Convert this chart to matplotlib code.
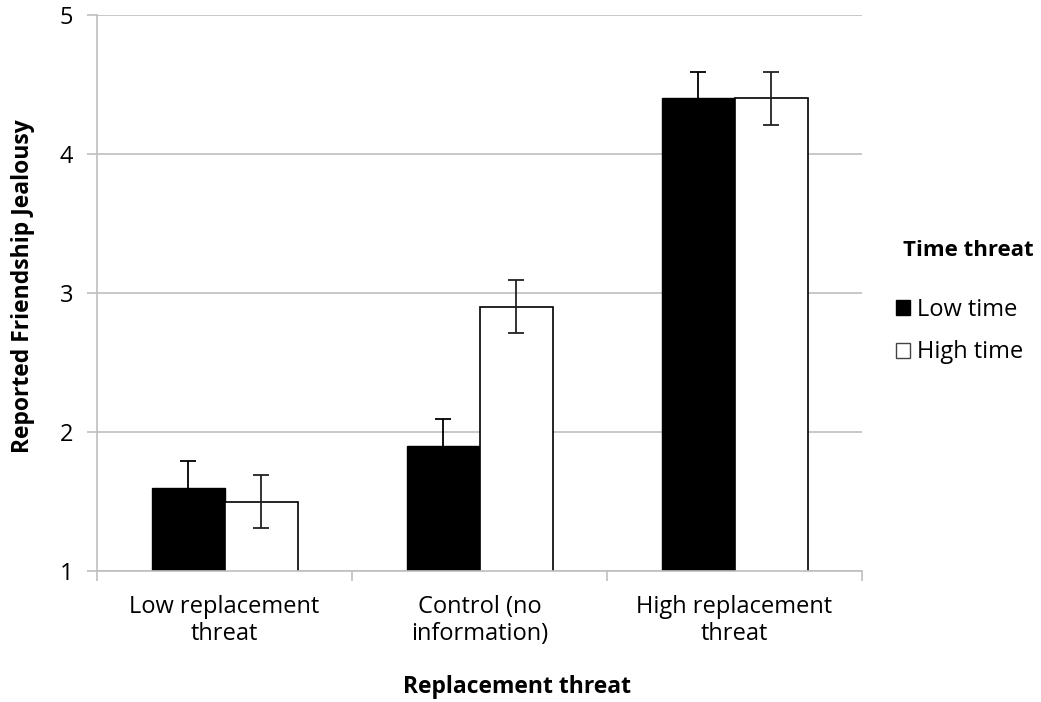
import matplotlib.pyplot as plt
import numpy as np
from matplotlib.patches import Patch

plt.rcParams['font.family'] = ['Open Sans', 'DejaVu Sans']

categories = ['Low replacement\nthreat', 'Control (no\ninformation)', 'High replacement\nthreat']
low_time = [1.6, 1.9, 4.4]
high_time = [1.5, 2.9, 4.4]
low_err = [0.19, 0.19, 0.19]
high_err = [0.19, 0.19, 0.19]

grid_col = '#bfbfbf'

fig = plt.figure(figsize=(10.41, 7.02), dpi=100)
ax = fig.add_axes([97 / 1041, 1 - 571 / 702, 765 / 1041, 556 / 702])

x = np.arange(len(categories))
w = 73 / 255

ax.bar(x - w / 2, low_time, w, color='black', edgecolor='black',
       linewidth=1, zorder=3)
ax.bar(x + w / 2, high_time, w, color='white', edgecolor='black',
       linewidth=1.2, zorder=3)
ax.errorbar(x - w / 2, low_time, yerr=low_err, fmt='none', ecolor='black',
            elinewidth=1.3, capsize=5.5, capthick=1.3, zorder=4)
ax.errorbar(x + w / 2, high_time, yerr=high_err, fmt='none', ecolor='#222222',
            elinewidth=1.3, capsize=5.5, capthick=1.3, zorder=4)

ax.set_xlim(-0.5, 2.5)
ax.set_ylim(1, 5)
ax.set_yticks([1, 2, 3, 4, 5])
ax.yaxis.grid(True, color=grid_col, linewidth=1.2, zorder=0)
ax.set_axisbelow(True)

# category boundaries carry the x tick marks, labels sit at centers
ax.set_xticks([-0.5, 0.5, 1.5, 2.5])
ax.set_xticklabels([])
ax.set_xticks(x, minor=True)
ax.set_xticklabels(categories, minor=True, fontsize=17, linespacing=1.2)
ax.tick_params(axis='x', which='minor', length=0, pad=17)
ax.tick_params(axis='x', which='major', length=7, color=grid_col, width=1.2)
ax.tick_params(axis='y', length=7, color=grid_col, width=1.2, labelsize=17, pad=10)

for side in ['top', 'right']:
    ax.spines[side].set_visible(False)
for side in ['left', 'bottom']:
    ax.spines[side].set_color(grid_col)
    ax.spines[side].set_linewidth(1.2)
ax.spines['bottom'].set_zorder(5)

# axis titles
fig.text(23 / 1041, 1 - 286 / 702, 'Reported Friendship Jealousy', rotation=90,
         fontsize=16.5, fontweight='bold', ha='center', va='center')
fig.text(517 / 1041, 1 - 687 / 702, 'Replacement threat',
         fontsize=16.5, fontweight='bold', ha='center', va='center')

# legend
fig.text(903 / 1041, 1 - 250 / 702, 'Time threat', fontsize=16,
         fontweight='bold', ha='left', va='center')
handles = [Patch(facecolor='black', edgecolor='black', label='Low time'),
           Patch(facecolor='white', edgecolor='#444444', label='High time')]
fig.legend(handles=handles, loc='upper left',
           bbox_to_anchor=(896 / 1041, 1 - 298 / 702), frameon=False,
           fontsize=17, handlelength=0.6, handleheight=0.6,
           handletextpad=0.3, labelspacing=0.78, borderpad=0.0,
           borderaxespad=0.0)

fig.savefig('out.png', dpi=100)
